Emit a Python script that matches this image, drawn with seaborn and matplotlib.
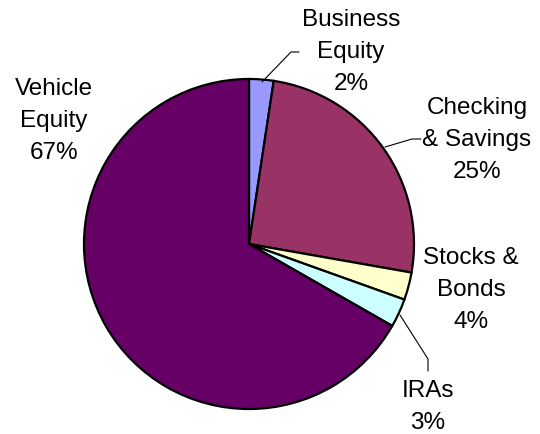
import numpy as np
import matplotlib
matplotlib.use("Agg")
import matplotlib.pyplot as plt
import seaborn as sns

# Slice data (wedge sizes as drawn, labels as printed)
categories = ["Business\nEquity", "Checking\n& Savings", "Stocks &\nBonds", "IRAs", "Vehicle\nEquity"]
shares = [2.4, 25.4, 2.7, 2.8, 66.8]
pct_labels = ["2%", "25%", "4%", "3%", "67%"]
colors = ["#9999FF", "#993366", "#FFFFCC", "#CCFFFF", "#660066"]

sns.set_theme(style="white")
plt.rcParams['font.family'] = ['Liberation Sans', 'DejaVu Sans']

W, H = 540, 435
fig = plt.figure(figsize=(W / 100, H / 100), dpi=100)

# pie centre and radius in pixels
cx, cy, r = 249, 245, 165
ax = fig.add_axes([(cx - r) / W, (H - cy - r) / H, 2 * r / W, 2 * r / H])
wedges, _ = ax.pie(shares, colors=colors, startangle=90, counterclock=False,
                   wedgeprops=dict(edgecolor="black", linewidth=1.6))
ax.set_xlim(-1, 1)
ax.set_ylim(-1, 1)
ax.set_aspect("equal")
ax.axis("off")


def px(x, y):
    # pixel (top-left origin) -> pie data coords
    return ((x - cx) / r, (cy - y) / r)


# label text centres (pixels)
text_pos = [(351, 52), (477, 140), (471, 290), (428, 407), (54, 121)]
# leader lines: list of pixel points from wedge outward, or None
leaders = [
    [(262, 83), (291, 53), (299, 53)],
    [(385, 148), (412, 140), (421, 140)],
    None,
    [(400, 316), (428, 360), (428, 372)],
    None,
]

for i, (cat, pct) in enumerate(zip(categories, pct_labels)):
    tx, ty = px(*text_pos[i])
    ax.text(tx, ty, f"{cat}\n{pct}", ha="center", va="center",
            fontsize=17.5, linespacing=1.6, color="black", clip_on=False)
    if leaders[i] is not None:
        pts = np.array([px(*p) for p in leaders[i]])
        ax.plot(pts[:, 0], pts[:, 1], color="black", linewidth=0.8,
                clip_on=False)

fig.savefig("out.png", dpi=100, facecolor="white")
